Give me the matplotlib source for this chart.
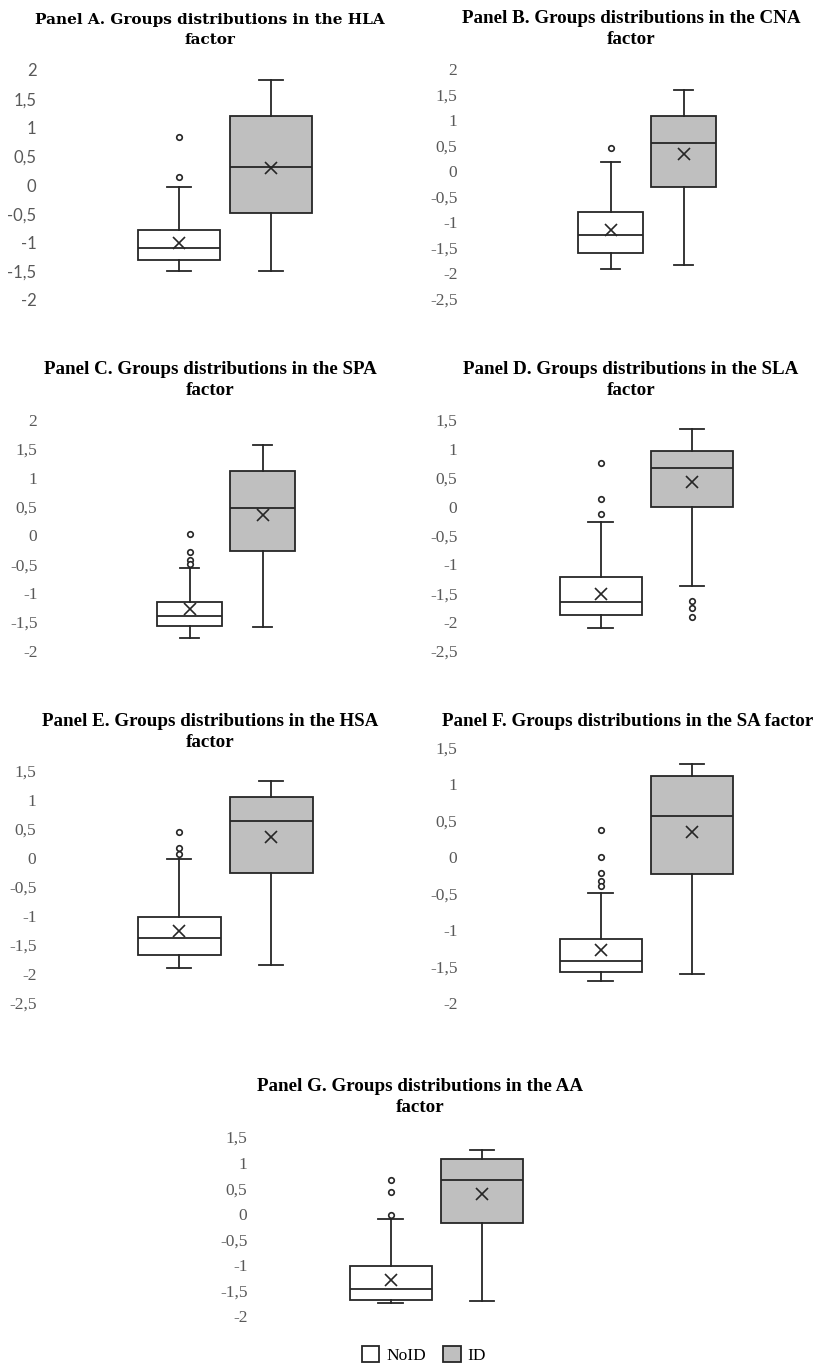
import numpy as np
import matplotlib
matplotlib.use('Agg')
import matplotlib.pyplot as plt
from matplotlib.patches import Patch

# --- data ---
panels = ['A', 'B', 'C', 'D', 'E', 'F', 'G']
factors = ['HLA', 'CNA', 'SPA', 'SLA', 'HSA', 'SA', 'AA']
groups = ['NoID', 'ID']

noid_low = [-1.50, -1.91, -1.77, -2.10, -1.89, -1.70, -1.74]
noid_q1 = [-1.31, -1.60, -1.56, -1.88, -1.68, -1.58, -1.68]
noid_med = [-1.09, -1.25, -1.39, -1.65, -1.38, -1.42, -1.48]
noid_q3 = [-0.79, -0.80, -1.16, -1.21, -1.01, -1.12, -1.03]
noid_high = [-0.03, 0.18, -0.56, -0.26, -0.02, -0.49, -0.10]
noid_mean = [-1.00, -1.15, -1.28, -1.52, -1.26, -1.27, -1.30]
noid_out = [[0.83, 0.14], [0.45], [0.03, -0.29, -0.42, -0.50],
            [0.76, 0.13, -0.13], [0.45, 0.17, 0.07],
            [0.37, 0.0, -0.21, -0.32, -0.40], [0.65, 0.42, -0.02]]

id_low = [-1.50, -1.83, -1.59, -1.38, -1.84, -1.60, -1.70]
id_q1 = [-0.49, -0.31, -0.26, -0.01, -0.25, -0.23, -0.18]
id_med = [0.32, 0.56, 0.48, 0.67, 0.64, 0.57, 0.66]
id_q3 = [1.20, 1.08, 1.12, 0.97, 1.06, 1.11, 1.07]
id_high = [1.82, 1.58, 1.56, 1.35, 1.33, 1.28, 1.25]
id_mean = [0.29, 0.34, 0.36, 0.43, 0.36, 0.35, 0.39]
id_out = [[], [], [], [-1.64, -1.75, -1.91], [], [], []]

y_min = [-2, -2.5, -2, -2.5, -2.5, -2, -2]
y_max = [2, 2, 2, 1.5, 1.5, 1.5, 1.5]

# --- layout in pixels of the 819x1367 image ---
W, H = 819, 1367
lab_right = [37, 458, 38, 458, 37, 458, 248]
ax_top = [70, 69, 420, 420, 771, 748, 1137]
ax_bot = [300, 299, 651, 651, 1003, 1003, 1316]
box_c1 = [179, 610.5, 189.5, 600.5, 179, 600.5, 390.5]
box_c2 = [271, 683.5, 262.5, 692, 271, 692, 482]
box_w = [82, 65, 65, 82, 83, 82, 82]
title_x = [210, 631, 210, 631, 210, 628, 420]
title_y = [30, 29, 380, 380, 732, 722, 1097]

serif = 'Liberation Serif'
line_col = '#262626'
tick_col = '#595959'
fill_id = '#bfbfbf'

fig = plt.figure(figsize=(W / 100, H / 100), dpi=100)

for i in range(len(panels)):
    left = lab_right[i] + 5
    right = min(left + 360, W - 4)
    ax = fig.add_axes([left / W, 1 - ax_bot[i] / H, (right - left) / W,
                       (ax_bot[i] - ax_top[i]) / H])
    sp = box_c2[i] - box_c1[i]
    wd = box_w[i] / sp

    stats = [
        dict(whislo=noid_low[i], q1=noid_q1[i], med=noid_med[i], q3=noid_q3[i],
             whishi=noid_high[i], mean=noid_mean[i], fliers=noid_out[i]),
        dict(whislo=id_low[i], q1=id_q1[i], med=id_med[i], q3=id_q3[i],
             whishi=id_high[i], mean=id_mean[i], fliers=id_out[i]),
    ]
    bp = ax.bxp(stats, positions=[1, 2], widths=wd, capwidths=wd * 0.3,
                showmeans=True, patch_artist=True,
                boxprops=dict(edgecolor=line_col, linewidth=1.3),
                medianprops=dict(color=line_col, linewidth=1.3),
                whiskerprops=dict(color=line_col, linewidth=1.3),
                capprops=dict(color=line_col, linewidth=1.3),
                meanprops=dict(marker='x', markeredgecolor=line_col,
                               markersize=8, markeredgewidth=1.2),
                flierprops=dict(marker='o', markerfacecolor='white',
                                markeredgecolor=line_col, markersize=4,
                                markeredgewidth=1.2))
    bp['boxes'][0].set_facecolor('white')
    bp['boxes'][1].set_facecolor(fill_id)

    ax.set_xlim(1 - (box_c1[i] - left) / sp, 2 + (right - box_c2[i]) / sp)
    ax.set_ylim(y_min[i], y_max[i])
    ticks = np.arange(y_min[i], y_max[i] + 0.01, 0.5)
    ax.set_yticks(ticks)
    ax.set_yticklabels([f"{round(t, 1) + 0.0:g}".replace('.', ',') for t in ticks])
    ax.set_xticks([])
    for s in ax.spines.values():
        s.set_visible(False)
    ax.tick_params(axis='y', length=0, pad=4, colors=tick_col)
    for lab in ax.get_yticklabels():
        if i == 0:
            lab.set_family('Lato')
            lab.set_fontsize(12)
        else:
            lab.set_family(serif)
            lab.set_fontsize(12.5)

    title = f"Panel {panels[i]}. Groups distributions in the {factors[i]}\nfactor"
    if panels[i] == 'F':
        title = f"Panel {panels[i]}. Groups distributions in the {factors[i]} factor"
    fig.text(title_x[i] / W, 1 - title_y[i] / H, title, ha='center', va='center',
             fontsize=11 if i == 0 else 13.7, fontweight='bold',
             family='DejaVu Serif' if i == 0 else serif,
             linespacing=1.6 if i == 0 else 1.3, color='black')

handles = [Patch(facecolor='white', edgecolor=line_col, linewidth=1.3, label=groups[0]),
           Patch(facecolor=fill_id, edgecolor=line_col, linewidth=1.3, label=groups[1])]
fig.legend(handles=handles, loc='center', bbox_to_anchor=(424 / W, 1 - 1355 / H),
           ncol=2, frameon=False, handlelength=1.0, handleheight=1.0,
           handletextpad=0.4, columnspacing=1.0,
           prop=dict(family=serif, size=12.5))

fig.savefig('out.png', dpi=100, facecolor='white')
